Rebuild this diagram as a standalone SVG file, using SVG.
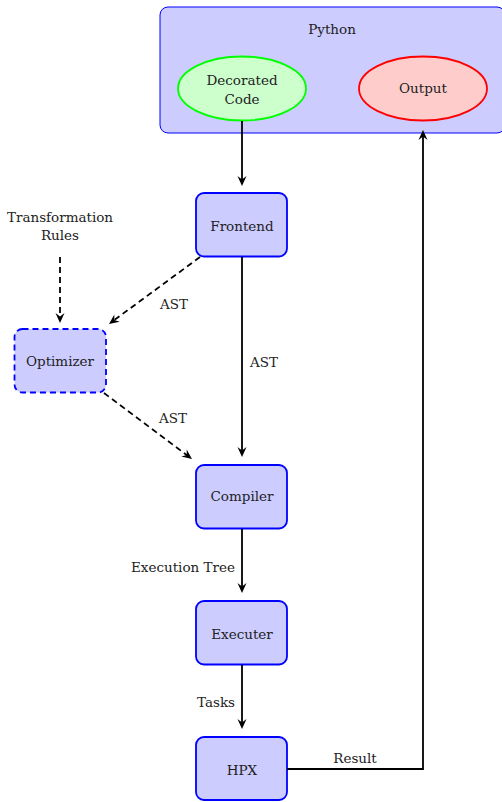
<svg xmlns="http://www.w3.org/2000/svg" width="502" height="802" viewBox="0 0 502 802">
<style>
text{font-family:"DejaVu Serif","Liberation Serif",serif;font-size:13.5px;fill:#222;text-anchor:middle;dominant-baseline:central}
.box{fill:#ccccff;stroke:#0000ff;stroke-width:1.8}
.dash{stroke-dasharray:6,4}
.edge{fill:none;stroke:#000;stroke-width:1.8}
</style>
<defs>
<marker id="arr" viewBox="-11 -6 12 12" refX="-4" refY="0" markerWidth="12" markerHeight="12" markerUnits="userSpaceOnUse" orient="auto">
<path d="M0,0 L-10,-4.5 L-6.5,0 L-10,4.5 Z" fill="#000"/>
</marker>
</defs>
<g id="python">
<rect x="160" y="7" width="345" height="126" rx="8" fill="#ccccff" stroke="#0000ff" stroke-width="1"/>
<text x="332" y="29">Python</text>
</g>
<g id="decorated">
<ellipse cx="242" cy="88.5" rx="64" ry="32" fill="#ccffcc" stroke="#00ff00" stroke-width="1.8"/>
<text x="242" y="80">Decorated</text>
<text x="242" y="99">Code</text>
</g>
<g id="output">
<ellipse cx="423" cy="88.5" rx="64" ry="32" fill="#ffcccc" stroke="#ff0000" stroke-width="1.8"/>
<text x="423" y="88">Output</text>
</g>
<g id="frontend">
<rect class="box" x="196" y="193" width="91" height="63.5" rx="8"/>
<text x="242" y="225.5">Frontend</text>
</g>
<g id="rules">
<text x="60" y="217">Transformation</text>
<text x="60" y="235">Rules</text>
</g>
<g id="optimizer">
<rect class="box dash" x="14.5" y="329" width="91.5" height="63.5" rx="8"/>
<text x="60" y="361">Optimizer</text>
</g>
<g id="compiler">
<rect class="box" x="196" y="465" width="91" height="63.5" rx="8"/>
<text x="242" y="496">Compiler</text>
</g>
<g id="executer">
<rect class="box" x="196" y="601" width="91" height="63.5" rx="8"/>
<text x="242" y="634">Executer</text>
</g>
<g id="hpx">
<rect class="box" x="196" y="737" width="91" height="63" rx="8"/>
<text x="242" y="770">HPX</text>
</g>
<g id="connectors">
<path class="edge" d="M242,121 L242,182" marker-end="url(#arr)"/>
<path class="edge" d="M242,257 L242,453" marker-end="url(#arr)"/>
<text x="264" y="362">AST</text>
<path class="edge dash" d="M200,257 L112.2,321.6" marker-end="url(#arr)"/>
<text x="174" y="304">AST</text>
<path class="edge dash" d="M104,393 L188.8,456.6" marker-end="url(#arr)"/>
<text x="173" y="418">AST</text>
<path class="edge dash" d="M60,257 L60,319" marker-end="url(#arr)"/>
<path class="edge" d="M242,529 L242,589" marker-end="url(#arr)"/>
<text x="235" y="566.5" style="text-anchor:end">Execution Tree</text>
<path class="edge" d="M242,665 L242,725" marker-end="url(#arr)"/>
<text x="235" y="701.5" style="text-anchor:end">Tasks</text>
<path class="edge" d="M287,769 L423,769 L423,134" marker-end="url(#arr)"/>
<text x="355" y="758">Result</text>
</g>
</svg>
